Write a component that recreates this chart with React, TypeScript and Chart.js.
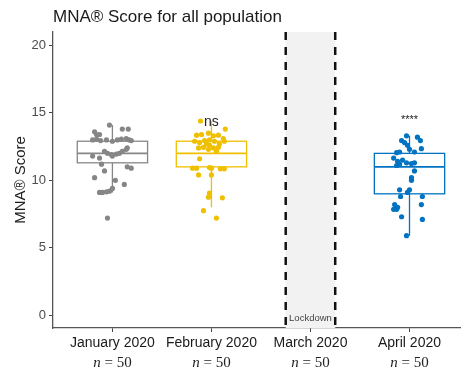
import React, { useEffect, useRef } from "react";
import { Chart, registerables } from "chart.js";

Chart.register(...registerables);

// ---------- data ----------
const titleText = "MNA® Score for all population";
const yAxisTitle = "MNA® Score";
const categories = ["January 2020", "February 2020", "March 2020", "April 2020"];
const nCounts = [50, 50, 50, 50];
const yTicks = [0, 5, 10, 15, 20];
const lockdownRange = [2.75, 3.25];
const lockdownLabel = "Lockdown";

const colorJan = "#868686";
const colorFeb = "#EFC000";
const colorApr = "#0073C2";

// box statistics: [lowWhisker, q1, median, q3, highWhisker]
const janBox = [9.1, 11.3, 12.0, 12.9, 14.1];
const febBox = [8.0, 11.0, 12.0, 12.9, 14.4];
const aprBox = [5.9, 9.0, 11.0, 12.0, 13.3];

const janValues = [14.1, 13.8, 13.8, 13.6, 13.4, 13.4, 13.0, 13.05, 12.95, 13.0, 12.9, 13.0, 13.05, 13.1, 13.0, 12.95, 12.15, 12.0, 11.9, 11.8, 11.95, 12.0, 12.15, 12.3, 12.4, 11.8, 11.65, 11.2, 11.0, 10.9, 10.7, 10.2, 10.0, 9.7, 9.4, 9.1, 9.1, 9.15, 9.2, 7.2];
const janJitter = [-0.03, 0.10, 0.16, -0.18, -0.16, -0.13, -0.20, -0.16, -0.12, -0.06, 0.00, 0.05, 0.09, 0.14, 0.17, 0.19, -0.08, -0.05, -0.01, 0.00, 0.04, 0.07, 0.10, 0.14, 0.15, -0.20, -0.13, -0.11, 0.15, 0.19, -0.08, -0.18, 0.03, 0.12, 0.00, -0.13, -0.10, -0.06, -0.03, -0.05];

const febValues = [14.4, 13.8, 13.35, 13.4, 13.5, 13.3, 13.35, 13.1, 12.9, 12.9, 12.8, 12.95, 13.0, 12.9, 12.7, 12.4, 12.45, 12.3, 12.4, 12.45, 12.15, 12.6, 12.7, 11.6, 10.9, 10.9, 10.95, 10.9, 10.85, 10.85, 10.4, 10.4, 9.05, 8.75, 8.7, 7.75, 7.2];
const febJitter = [-0.11, 0.14, -0.15, -0.10, -0.03, 0.02, 0.07, 0.12, 0.13, -0.17, -0.12, -0.07, -0.02, 0.03, 0.08, -0.13, -0.08, -0.03, 0.02, 0.07, 0.05, -0.02, -0.05, -0.12, -0.19, -0.15, -0.02, 0.00, 0.09, 0.13, -0.13, 0.00, -0.02, -0.03, 0.11, -0.08, 0.05];

const aprValues = [13.3, 13.2, 12.95, 12.95, 12.8, 12.6, 12.3, 12.35, 12.1, 12.05, 12.1, 11.65, 11.4, 11.5, 11.3, 11.25, 11.3, 11.1, 11.2, 10.7, 10.2, 10.0, 9.3, 9.3, 9.1, 8.8, 8.8, 8.2, 8.0, 7.85, 7.85, 8.2, 7.3, 7.1, 5.9];
const aprJitter = [-0.03, 0.08, 0.11, -0.08, -0.05, -0.02, 0.00, 0.12, 0.05, -0.13, -0.10, -0.16, -0.12, -0.07, -0.03, 0.02, 0.05, -0.13, -0.10, 0.05, 0.02, 0.02, -0.10, 0.00, -0.02, -0.09, 0.13, -0.15, -0.12, -0.13, -0.16, 0.12, -0.08, 0.13, -0.03];

const sigLabels = ["", "ns", "", "****"];
const sigY = [0, 14.3, 0, 14.45];

const boxHalfWidth = 0.355;

const groups = [
  { cat: 1, color: colorJan, box: janBox, values: janValues, jitter: janJitter },
  { cat: 2, color: colorFeb, box: febBox, values: febValues, jitter: febJitter },
  { cat: 4, color: colorApr, box: aprBox, values: aprValues, jitter: aprJitter },
];

const SANS = '"Liberation Sans", Arial, sans-serif';
const SERIF = '"Liberation Serif", "Times New Roman", serif';

const drawPlugin = {
  id: "customDraw",
  beforeDatasetsDraw(chart: any) {
    const { ctx, chartArea, scales } = chart;
    const x = scales.x;
    const y = scales.y;
    ctx.save();
    // lockdown shading
    const l = x.getPixelForValue(lockdownRange[0]);
    const r = x.getPixelForValue(lockdownRange[1]);
    ctx.fillStyle = "#f2f2f2";
    ctx.fillRect(l, chartArea.top, r - l, chartArea.bottom - chartArea.top);
    // boxes
    groups.forEach((g) => {
      const [lo, q1, med, q3, hi] = g.box;
      const cx = x.getPixelForValue(g.cat);
      const x0 = x.getPixelForValue(g.cat - boxHalfWidth);
      const x1 = x.getPixelForValue(g.cat + boxHalfWidth);
      ctx.strokeStyle = g.color;
      ctx.lineWidth = 1.3;
      ctx.setLineDash([]);
      ctx.beginPath();
      ctx.moveTo(cx, y.getPixelForValue(q3));
      ctx.lineTo(cx, y.getPixelForValue(hi));
      ctx.moveTo(cx, y.getPixelForValue(q1));
      ctx.lineTo(cx, y.getPixelForValue(lo));
      ctx.stroke();
      const yq3 = y.getPixelForValue(q3);
      const yq1 = y.getPixelForValue(q1);
      ctx.fillStyle = "#ffffff";
      ctx.fillRect(x0, yq3, x1 - x0, yq1 - yq3);
      ctx.strokeRect(x0, yq3, x1 - x0, yq1 - yq3);
      ctx.beginPath();
      const ym = y.getPixelForValue(med);
      ctx.lineWidth = 1.6;
      ctx.moveTo(x0, ym);
      ctx.lineTo(x1, ym);
      ctx.stroke();
    });
    ctx.restore();
  },
  afterDraw(chart: any) {
    const { ctx, chartArea, scales } = chart;
    const x = scales.x;
    const y = scales.y;
    ctx.save();
    // dashed lockdown lines
    ctx.strokeStyle = "#111111";
    ctx.lineWidth = 2.5;
    ctx.setLineDash([8, 7]);
    lockdownRange.forEach((v) => {
      const px = x.getPixelForValue(v);
      ctx.beginPath();
      ctx.moveTo(px, chartArea.top);
      ctx.lineTo(px, chartArea.bottom);
      ctx.stroke();
    });
    ctx.setLineDash([]);
    const l = x.getPixelForValue(lockdownRange[0]);
    const r = x.getPixelForValue(lockdownRange[1]);
    ctx.fillStyle = "#444444";
    ctx.font = `9.5px ${SANS}`;
    ctx.textAlign = "center";
    ctx.textBaseline = "middle";
    ctx.fillText(lockdownLabel, (l + r) / 2, chartArea.bottom - 10);

    // title
    ctx.fillStyle = "#1a1a1a";
    ctx.font = `17px ${SANS}`;
    ctx.textAlign = "left";
    ctx.textBaseline = "alphabetic";
    ctx.fillText(titleText, chartArea.left, 22);

    // y axis title
    ctx.save();
    ctx.translate(21, (chartArea.top + chartArea.bottom) / 2);
    ctx.rotate(-Math.PI / 2);
    ctx.font = `15px ${SANS}`;
    ctx.textAlign = "center";
    ctx.textBaseline = "middle";
    ctx.fillStyle = "#1a1a1a";
    ctx.fillText(yAxisTitle, 0, 0);
    ctx.restore();

    // significance labels
    sigLabels.forEach((s, i) => {
      if (!s) return;
      const px = x.getPixelForValue(i + 1);
      const py = y.getPixelForValue(sigY[i]);
      ctx.fillStyle = "#222222";
      ctx.font = s === "ns" ? `14px ${SANS}` : `11px ${SANS}`;
      ctx.textAlign = "center";
      ctx.textBaseline = "middle";
      ctx.fillText(s, px, py);
    });

    // n = 50 labels
    nCounts.forEach((n, i) => {
      const px = x.getPixelForValue(i + 1);
      const py = 363;
      ctx.textBaseline = "middle";
      ctx.textAlign = "left";
      ctx.fillStyle = "#222222";
      ctx.font = `italic 15px ${SERIF}`;
      const w1 = ctx.measureText("n").width;
      ctx.font = `15px ${SERIF}`;
      const rest = " = " + n;
      const w2 = ctx.measureText(rest).width;
      const start = px - (w1 + w2) / 2;
      ctx.font = `italic 15px ${SERIF}`;
      ctx.fillText("n", start, py);
      ctx.font = `15px ${SERIF}`;
      ctx.fillText(rest, start + w1, py);
    });
    ctx.restore();
  },
};

export default function App() {
  const ref = useRef<HTMLCanvasElement | null>(null);
  useEffect(() => {
    if (!ref.current) return;
    const datasets = groups.map((g) => ({
      type: "scatter" as const,
      data: g.values.map((v, i) => ({ x: g.cat + g.jitter[i], y: v })),
      backgroundColor: g.color,
      borderWidth: 0,
      pointRadius: 2.6,
    }));
    const chart = new Chart(ref.current, {
      type: "scatter",
      data: { datasets },
      options: {
        animation: false,
        responsive: false,
        devicePixelRatio: 1,
        layout: { padding: { top: 32, left: 0, right: 0, bottom: 0 } },
        plugins: { legend: { display: false }, tooltip: { enabled: false }, title: { display: false } },
        scales: {
          x: {
            type: "linear",
            min: 0.4,
            max: 4.51,
            afterBuildTicks: (s: any) => {
              s.ticks = categories.map((_, i) => ({ value: i + 1 }));
            },
            afterFit: (s: any) => {
              s.height = 46;
            },
            ticks: {
              callback: (v: any) => categories[Number(v) - 1] ?? "",
              font: { family: SANS, size: 14 },
              color: "#1a1a1a",
              padding: 3,
              maxRotation: 0,
              autoSkip: false,
            },
            grid: { drawOnChartArea: false, drawTicks: true, tickLength: 4, color: "#444444" },
            border: { display: true, color: "#555555", width: 1.3 },
          },
          y: {
            type: "linear",
            min: -0.95,
            max: 21,
            afterBuildTicks: (s: any) => {
              s.ticks = yTicks.map((v) => ({ value: v }));
            },
            afterFit: (s: any) => {
              s.width = 53;
            },
            ticks: {
              font: { family: SANS, size: 13 },
              color: "#4d4d4d",
              padding: 3,
            },
            grid: { drawOnChartArea: false, drawTicks: true, tickLength: 4, color: "#444444" },
            border: { display: true, color: "#555555", width: 1.3 },
          },
        },
      },
      plugins: [drawPlugin],
    });
    return () => chart.destroy();
  }, []);
  return (
    <div style={{ position: "fixed", left: 0, top: 0, width: 464, height: 374, background: "#ffffff" }}>
      <canvas ref={ref} width={464} height={374} style={{ display: "block" }} />
    </div>
  );
}
